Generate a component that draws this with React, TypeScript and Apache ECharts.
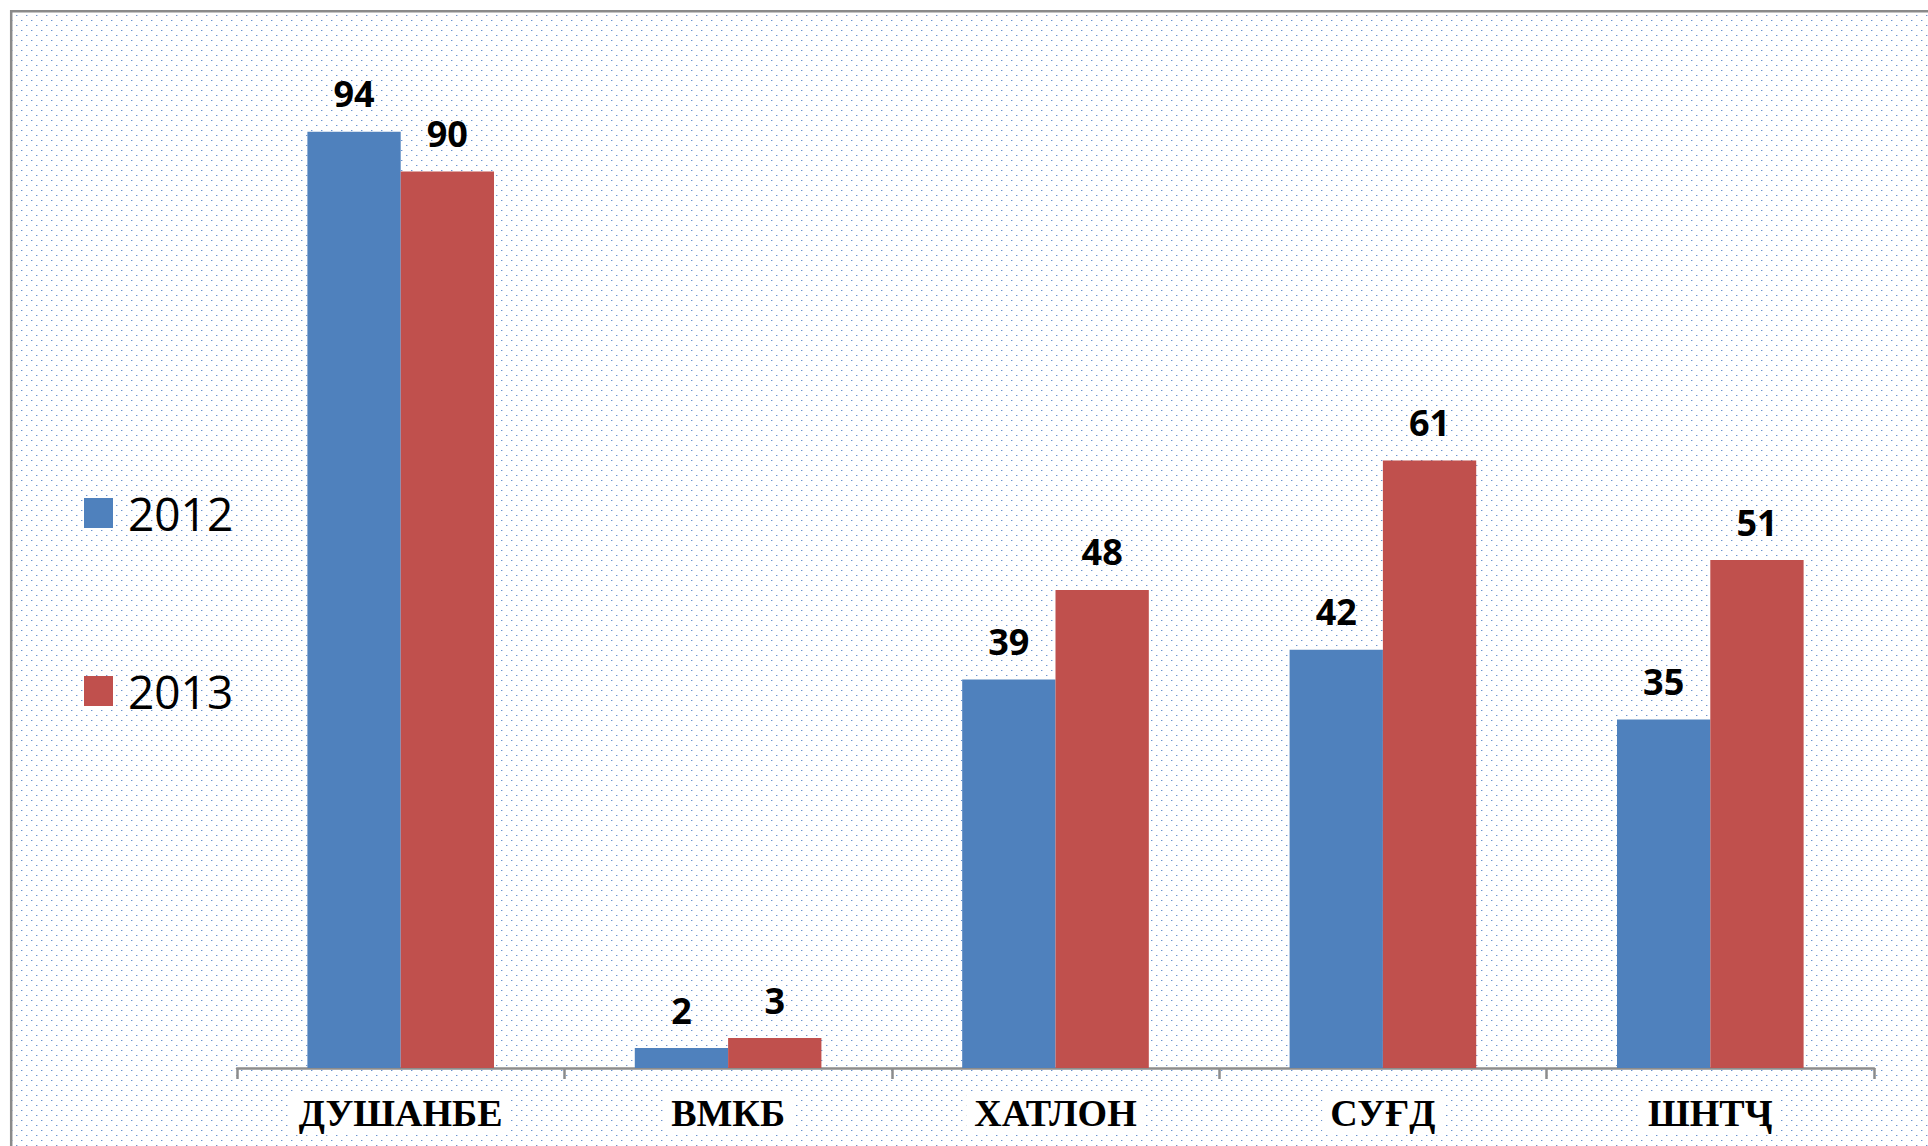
import React, { useEffect, useRef } from "react";
import * as echarts from "echarts";

const categories = ["ДУШАНБЕ", "ВМКБ", "ХАТЛОН", "СУҒД", "ШНТҶ"];
const seriesNames = ["2012", "2013"];
const values2012 = [94, 2, 39, 42, 35];
const values2013 = [90, 3, 48, 61, 51];

const dotSvg =
  "data:image/svg+xml;utf8," +
  encodeURIComponent(
    "<svg xmlns='http://www.w3.org/2000/svg' width='10' height='10'>" +
      "<rect x='1' y='0' width='1' height='1' fill='#6a93cf'/>" +
      "<rect x='2' y='0' width='1' height='1' fill='#c3d3ee'/>" +
      "<rect x='6' y='5' width='1' height='1' fill='#6a93cf'/>" +
      "<rect x='7' y='5' width='1' height='1' fill='#c3d3ee'/>" +
      "</svg>"
  );

export default function App() {
  const ref = useRef<HTMLDivElement>(null);
  useEffect(() => {
    if (!ref.current) return;
    const chart = echarts.init(ref.current, undefined, { renderer: "svg" });
    const labelStyle = {
      show: true,
      position: "top" as const,
      distance: 20,
      fontFamily: "Open Sans",
      fontWeight: "bold" as const,
      fontSize: 36,
      color: "#000",
    };
    chart.setOption({
      animation: false,
      backgroundColor: "transparent",
      grid: { left: 237, right: 54, top: 72, bottom: 78, containLabel: false },
      legend: {
        orient: "vertical",
        left: 79,
        top: 485,
        itemWidth: 29,
        itemHeight: 30,
        itemGap: 132,
        icon: "rect",
        data: seriesNames,
        textStyle: {
          fontFamily: "Open Sans",
          fontSize: 46,
          color: "#000",
          lineHeight: 30,
          padding: [0, 0, 0, 10],
        },
      },
      xAxis: {
        type: "category",
        data: categories,
        axisLine: { lineStyle: { color: "#8c8c8c", width: 2.5 } },
        axisTick: { show: true, length: 11, lineStyle: { color: "#8c8c8c", width: 2.5 } },
        axisLabel: {
          interval: 0,
          margin: 25,
          fontFamily: "Liberation Serif, DejaVu Serif, serif",
          fontWeight: "bold",
          fontSize: 38,
          lineHeight: 32,
          color: "#000",
          backgroundColor: "#fff",
          padding: [4, 8, 4, 8],
        },
      },
      yAxis: {
        type: "value",
        min: 0,
        max: 100,
        show: false,
        splitLine: { show: false },
      },
      series: [
        {
          name: seriesNames[0],
          type: "bar",
          data: values2012,
          barGap: "0%",
          barCategoryGap: "43%",
          itemStyle: { color: "#4f81bd" },
          label: labelStyle,
        },
        {
          name: seriesNames[1],
          type: "bar",
          data: values2013,
          barGap: "0%",
          barCategoryGap: "43%",
          itemStyle: { color: "#c0504d" },
          label: labelStyle,
        },
      ],
      graphic: [
        { type: "rect", shape: { x: 0, y: 0, width: 1928, height: 10 }, style: { fill: "#fff" }, silent: true },
        { type: "rect", shape: { x: 0, y: 0, width: 10, height: 1146 }, style: { fill: "#fff" }, silent: true },
        {
          type: "line",
          shape: { x1: 10, y1: 11.2, x2: 1928, y2: 11.2 },
          style: { stroke: "#8a8a8a", lineWidth: 2.5 },
          silent: true,
        },
        {
          type: "line",
          shape: { x1: 11.2, y1: 10, x2: 11.2, y2: 1146 },
          style: { stroke: "#8a8a8a", lineWidth: 2.5 },
          silent: true,
        },
      ],
    });
    return () => chart.dispose();
  }, []);
  return (
    <div
      ref={ref}
      style={{
        position: "fixed",
        left: 0,
        top: 0,
        width: 1928,
        height: 1146,
        backgroundColor: "#fff",
        backgroundImage: `url("${dotSvg}")`,
        backgroundRepeat: "repeat",
        backgroundPosition: "10px 10px",
      }}
    />
  );
}
